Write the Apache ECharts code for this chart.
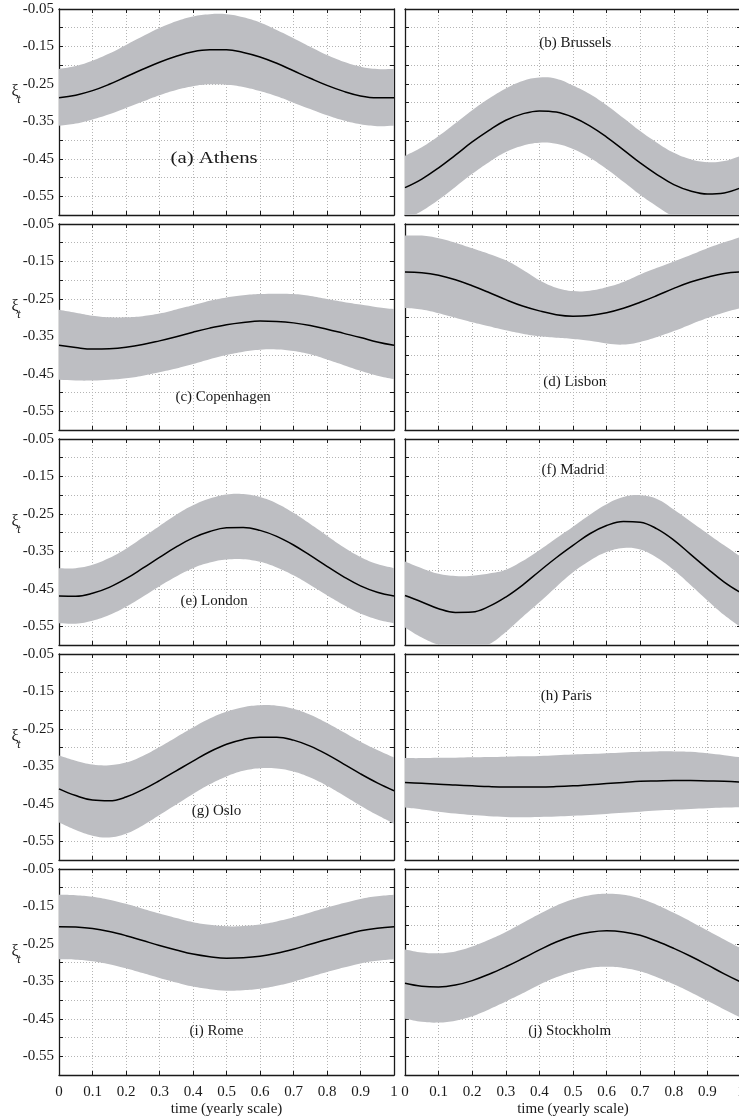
<!DOCTYPE html>
<html>
<head>
<meta charset="utf-8">
<script src="https://cdn.jsdelivr.net/npm/echarts@6/dist/echarts.min.js"></script>
<style>html,body{margin:0;padding:0;background:#fff;}#c{width:739px;height:1117px;}</style>
</head>
<body>
<div id="c"></div>
<script>
// ---- data ----
const tVals = [0,0.05,0.1,0.15,0.2,0.25,0.3,0.35,0.4,0.45,0.5,0.55,0.6,0.65,0.7,0.75,0.8,0.85,0.9,0.95,1];
const xTicks = [0,0.1,0.2,0.3,0.4,0.5,0.6,0.7,0.8,0.9,1];
const yTickLabels = ['-0.55','-0.45','-0.35','-0.25','-0.15','-0.05'];
const panelNames = ['(a) Athens','(b) Brussels','(c) Copenhagen','(d) Lisbon','(e) London','(f) Madrid','(g) Oslo','(h) Paris','(i) Rome','(j) Stockholm'];
const labelX = [0.463,0.507,0.49,0.505,0.463,0.50,0.47,0.48,0.47,0.49];
const labelY = [-0.45,-0.14,-0.513,-0.473,-0.482,-0.133,-0.469,-0.163,-0.482,-0.482];

const athensMean  = [-0.287,-0.280,-0.268,-0.251,-0.231,-0.211,-0.192,-0.176,-0.164,-0.159,-0.159,-0.166,-0.178,-0.195,-0.215,-0.235,-0.254,-0.270,-0.282,-0.287,-0.287];
const athensUpper = [-0.210,-0.202,-0.188,-0.169,-0.146,-0.123,-0.101,-0.083,-0.070,-0.064,-0.064,-0.072,-0.086,-0.106,-0.128,-0.151,-0.173,-0.191,-0.204,-0.210,-0.210];
const athensLower = [-0.362,-0.356,-0.345,-0.331,-0.314,-0.297,-0.280,-0.266,-0.256,-0.251,-0.252,-0.258,-0.269,-0.283,-0.300,-0.317,-0.334,-0.348,-0.358,-0.363,-0.362];

const brusselsMean  = [-0.527,-0.504,-0.474,-0.440,-0.405,-0.374,-0.347,-0.330,-0.322,-0.325,-0.339,-0.362,-0.392,-0.426,-0.461,-0.492,-0.519,-0.536,-0.544,-0.541,-0.527];
const brusselsUpper = [-0.442,-0.419,-0.389,-0.355,-0.320,-0.289,-0.262,-0.242,-0.233,-0.236,-0.254,-0.277,-0.307,-0.341,-0.376,-0.407,-0.434,-0.451,-0.459,-0.456,-0.442];
const brusselsLower = [-0.612,-0.589,-0.559,-0.525,-0.490,-0.459,-0.432,-0.415,-0.407,-0.410,-0.424,-0.447,-0.477,-0.511,-0.546,-0.577,-0.604,-0.621,-0.629,-0.626,-0.612];

const copenhagenMean  = [-0.374,-0.380,-0.384,-0.383,-0.379,-0.372,-0.362,-0.351,-0.339,-0.328,-0.319,-0.313,-0.309,-0.310,-0.314,-0.321,-0.331,-0.342,-0.353,-0.365,-0.374];
const copenhagenUpper = [-0.279,-0.287,-0.295,-0.299,-0.299,-0.296,-0.289,-0.278,-0.267,-0.255,-0.246,-0.240,-0.237,-0.236,-0.237,-0.242,-0.250,-0.258,-0.265,-0.272,-0.277];
const copenhagenLower = [-0.466,-0.468,-0.468,-0.466,-0.462,-0.455,-0.446,-0.436,-0.424,-0.411,-0.400,-0.391,-0.386,-0.385,-0.389,-0.398,-0.412,-0.427,-0.442,-0.455,-0.464];

const lisbonMean  = [-0.178,-0.180,-0.187,-0.199,-0.215,-0.233,-0.252,-0.269,-0.282,-0.292,-0.296,-0.294,-0.287,-0.275,-0.259,-0.241,-0.222,-0.205,-0.192,-0.182,-0.178];
const lisbonUpper = [-0.081,-0.081,-0.088,-0.100,-0.115,-0.130,-0.147,-0.172,-0.200,-0.220,-0.229,-0.228,-0.219,-0.205,-0.185,-0.167,-0.150,-0.133,-0.115,-0.099,-0.084];
const lisbonLower = [-0.274,-0.278,-0.288,-0.300,-0.312,-0.323,-0.334,-0.343,-0.350,-0.354,-0.357,-0.362,-0.369,-0.372,-0.365,-0.352,-0.336,-0.318,-0.301,-0.286,-0.274];

const londonMean  = [-0.469,-0.470,-0.462,-0.446,-0.423,-0.395,-0.366,-0.338,-0.314,-0.297,-0.287,-0.286,-0.294,-0.310,-0.333,-0.361,-0.390,-0.418,-0.442,-0.459,-0.469];
const londonUpper = [-0.395,-0.395,-0.386,-0.368,-0.343,-0.313,-0.282,-0.252,-0.227,-0.209,-0.198,-0.197,-0.205,-0.222,-0.247,-0.277,-0.308,-0.339,-0.365,-0.384,-0.395];
const londonLower = [-0.542,-0.543,-0.535,-0.520,-0.498,-0.471,-0.443,-0.417,-0.395,-0.380,-0.372,-0.371,-0.378,-0.393,-0.414,-0.440,-0.467,-0.493,-0.516,-0.532,-0.542];

const madridMean  = [-0.468,-0.485,-0.503,-0.513,-0.512,-0.497,-0.472,-0.440,-0.403,-0.367,-0.334,-0.303,-0.281,-0.270,-0.272,-0.290,-0.320,-0.358,-0.396,-0.432,-0.461];
const madridUpper = [-0.377,-0.395,-0.410,-0.416,-0.415,-0.409,-0.399,-0.376,-0.347,-0.315,-0.284,-0.252,-0.224,-0.205,-0.200,-0.210,-0.238,-0.270,-0.302,-0.334,-0.365];
const madridLower = [-0.553,-0.580,-0.600,-0.612,-0.612,-0.598,-0.565,-0.525,-0.486,-0.445,-0.406,-0.375,-0.352,-0.341,-0.345,-0.367,-0.400,-0.440,-0.481,-0.520,-0.553];

const osloMean  = [-0.410,-0.428,-0.440,-0.442,-0.432,-0.412,-0.388,-0.362,-0.336,-0.311,-0.291,-0.278,-0.272,-0.272,-0.280,-0.296,-0.318,-0.344,-0.370,-0.394,-0.415];
const osloUpper = [-0.321,-0.335,-0.345,-0.347,-0.340,-0.322,-0.298,-0.272,-0.246,-0.222,-0.204,-0.192,-0.187,-0.188,-0.196,-0.212,-0.234,-0.259,-0.284,-0.306,-0.326];
const osloLower = [-0.500,-0.520,-0.535,-0.540,-0.530,-0.508,-0.480,-0.452,-0.424,-0.398,-0.377,-0.362,-0.355,-0.356,-0.364,-0.380,-0.402,-0.428,-0.455,-0.480,-0.503];

const parisMean  = [-0.393,-0.395,-0.398,-0.400,-0.402,-0.404,-0.405,-0.405,-0.405,-0.404,-0.402,-0.399,-0.396,-0.393,-0.390,-0.389,-0.388,-0.388,-0.389,-0.390,-0.392];
const parisUpper = [-0.328,-0.328,-0.327,-0.327,-0.326,-0.325,-0.324,-0.323,-0.322,-0.320,-0.318,-0.317,-0.315,-0.313,-0.311,-0.310,-0.310,-0.311,-0.315,-0.320,-0.326];
const parisLower = [-0.460,-0.465,-0.471,-0.476,-0.480,-0.483,-0.485,-0.486,-0.485,-0.484,-0.482,-0.480,-0.477,-0.474,-0.471,-0.468,-0.466,-0.464,-0.462,-0.460,-0.459];

const romeMean  = [-0.204,-0.205,-0.209,-0.217,-0.228,-0.241,-0.254,-0.266,-0.277,-0.284,-0.288,-0.287,-0.283,-0.275,-0.264,-0.251,-0.238,-0.226,-0.215,-0.208,-0.204];
const romeUpper = [-0.119,-0.120,-0.124,-0.132,-0.143,-0.156,-0.169,-0.181,-0.192,-0.199,-0.203,-0.202,-0.198,-0.190,-0.179,-0.166,-0.153,-0.141,-0.130,-0.123,-0.119];
const romeLower = [-0.291,-0.292,-0.296,-0.304,-0.315,-0.328,-0.341,-0.353,-0.364,-0.371,-0.375,-0.374,-0.370,-0.362,-0.351,-0.338,-0.325,-0.313,-0.302,-0.295,-0.291];

const stockholmMean  = [-0.355,-0.363,-0.365,-0.360,-0.348,-0.331,-0.311,-0.289,-0.266,-0.245,-0.229,-0.219,-0.215,-0.218,-0.227,-0.243,-0.262,-0.283,-0.306,-0.330,-0.352];
const stockholmUpper = [-0.265,-0.273,-0.275,-0.270,-0.257,-0.239,-0.218,-0.194,-0.170,-0.148,-0.131,-0.120,-0.116,-0.119,-0.129,-0.146,-0.167,-0.190,-0.214,-0.238,-0.262];
const stockholmLower = [-0.450,-0.458,-0.460,-0.455,-0.443,-0.425,-0.404,-0.382,-0.359,-0.339,-0.324,-0.314,-0.311,-0.314,-0.323,-0.339,-0.358,-0.379,-0.402,-0.425,-0.447];

const means  = [athensMean,brusselsMean,copenhagenMean,lisbonMean,londonMean,madridMean,osloMean,parisMean,romeMean,stockholmMean];
const uppers = [athensUpper,brusselsUpper,copenhagenUpper,lisbonUpper,londonUpper,madridUpper,osloUpper,parisUpper,romeUpper,stockholmUpper];
const lowers = [athensLower,brusselsLower,copenhagenLower,lisbonLower,londonLower,madridLower,osloLower,parisLower,romeLower,stockholmLower];

// ---- layout ----
const COL_LEFT = [59, 405];
const COL_W = [335, 336];
const ROW_TOP = [9, 224, 439, 654, 869];
const H = 206;
const YMIN = -0.6, YMAX = -0.05;
const FONT = 'Liberation Serif';
const TXT = '#1a1a1a';
const AXC = '#1a1a1a';
const BAND = '#bdbec2';
const SMOOTH = 0.4;
const LABEL_FONT = ['16px', '15px', '15px', '15px', '15px', '15px', '15px', '15px', '15px', '15px'];
const LABEL_SCALEX = [1.3, 1, 1, 1, 1, 1, 1, 1, 1, 1];

function bandRenderer(i) {
  return function (params, api) {
    const up = uppers[i], lo = lowers[i], n = tVals.length;
    const pts = [];
    const u0 = api.coord([tVals[0], up[0]]);
    pts.push(u0, u0.slice());
    for (let k = 1; k < n; k++) pts.push(api.coord([tVals[k], up[k]]));
    pts.push(pts[pts.length - 1].slice());
    const ln = api.coord([tVals[n - 1], lo[n - 1]]);
    pts.push(ln, ln.slice());
    for (let k = n - 2; k >= 0; k--) pts.push(api.coord([tVals[k], lo[k]]));
    pts.push(pts[pts.length - 1].slice());
    return { type: 'polygon', shape: { points: pts, smooth: SMOOTH }, style: { fill: BAND, stroke: null } };
  };
}

const grids = [], xAxes = [], xAxesTop = [], yAxes = [], yAxesRight = [], series = [], graphics = [];
for (let i = 0; i < 10; i++) {
  const row = Math.floor(i / 2), col = i % 2;
  const left = COL_LEFT[col], top = ROW_TOP[row], W = COL_W[col];
  grids.push({ left: left, top: top, width: W, height: H, containLabel: false, outerBoundsMode: 'none', show: false });
  const isBottom = row === 4, isLeft = col === 0;
  xAxes.push({
    type: 'value', gridIndex: i, min: 0, max: 1, interval: 0.1, position: 'bottom',
    axisLine: { show: true, onZero: false, lineStyle: { color: AXC, width: 1.3 } },
    axisTick: { show: true, inside: true, length: 4, lineStyle: { color: AXC, width: 1 } },
    axisLabel: { show: isBottom, color: TXT, fontFamily: FONT, fontSize: 15, margin: 10, hideOverlap: false,
      formatter: v => { const r = Math.round(v * 10) / 10; return xTicks.indexOf(r) >= 0 ? String(r) : ''; } },
    splitLine: { show: true, lineStyle: { color: '#b4b4b4', width: 1, type: [1, 2] } },
    name: isBottom ? 'time (yearly scale)' : '', nameLocation: 'middle', nameGap: 27,
    nameTextStyle: { color: TXT, fontFamily: FONT, fontSize: 15 }
  });
  xAxesTop.push({
    type: 'value', gridIndex: i, min: 0, max: 1, interval: 0.1, position: 'top',
    axisLine: { show: true, onZero: false, lineStyle: { color: AXC, width: 1.3 } },
    axisTick: { show: true, inside: true, length: 4, lineStyle: { color: AXC, width: 1 } },
    axisLabel: { show: false }, splitLine: { show: false }
  });
  yAxes.push({
    type: 'value', gridIndex: i, min: YMIN, max: YMAX, interval: 0.05, position: 'left',
    axisLine: { show: true, onZero: false, lineStyle: { color: AXC, width: 1.3 } },
    axisTick: { show: true, inside: true, length: 4, lineStyle: { color: AXC, width: 1 } },
    axisLabel: { show: isLeft, color: TXT, fontFamily: FONT, fontSize: 15, margin: 5, showMinLabel: true, showMaxLabel: true,
      formatter: v => { const s = v.toFixed(2); return yTickLabels.indexOf(s) >= 0 ? s : ''; } },
    splitLine: { show: true, lineStyle: { color: '#b4b4b4', width: 1, type: [1, 2] } }
  });
  yAxesRight.push({
    type: 'value', gridIndex: i, min: YMIN, max: YMAX, interval: 0.05, position: 'right',
    axisLine: { show: true, onZero: false, lineStyle: { color: AXC, width: 1.3 } },
    axisTick: { show: true, inside: true, length: 4, lineStyle: { color: AXC, width: 1 } },
    axisLabel: { show: false }, splitLine: { show: false }
  });
  series.push({ type: 'custom', xAxisIndex: i, yAxisIndex: i, data: [[0, YMIN]], clip: true, silent: true, z: 2,
    renderItem: bandRenderer(i), animation: false });
  series.push({ type: 'line', xAxisIndex: i, yAxisIndex: i, data: tVals.map((t, k) => [t, means[i][k]]), smooth: SMOOTH,
    symbol: 'none', silent: true, lineStyle: { color: '#000', width: 1.5 }, z: 3, animation: false });
  graphics.push({ type: 'text', x: left + labelX[i] * W, y: top + (YMAX - labelY[i]) / (YMAX - YMIN) * H, z: 10,
    scaleX: LABEL_SCALEX[i],
    style: { text: panelNames[i], fill: TXT, font: LABEL_FONT[i] + ' "Liberation Serif"', textAlign: 'center', textVerticalAlign: 'middle' } });
  if (isLeft) {
    graphics.push({ type: 'text', x: 15, y: top + 83, z: 10,
      style: { text: 'ξ', fill: TXT, font: '16px "Liberation Serif"', textAlign: 'center', textVerticalAlign: 'middle' } });
    graphics.push({ type: 'text', x: 19, y: top + 91, z: 10,
      style: { text: 't', fill: TXT, font: 'italic 12px "Liberation Serif"', textAlign: 'center', textVerticalAlign: 'middle' } });
  }
}

const chart = echarts.init(document.getElementById('c'), null, { renderer: 'canvas' });
chart.setOption({
  backgroundColor: '#fff',
  animation: false,
  grid: grids,
  xAxis: xAxes.concat(xAxesTop),
  yAxis: yAxes.concat(yAxesRight),
  series: series,
  graphic: graphics
});
</script>
</body>
</html>
